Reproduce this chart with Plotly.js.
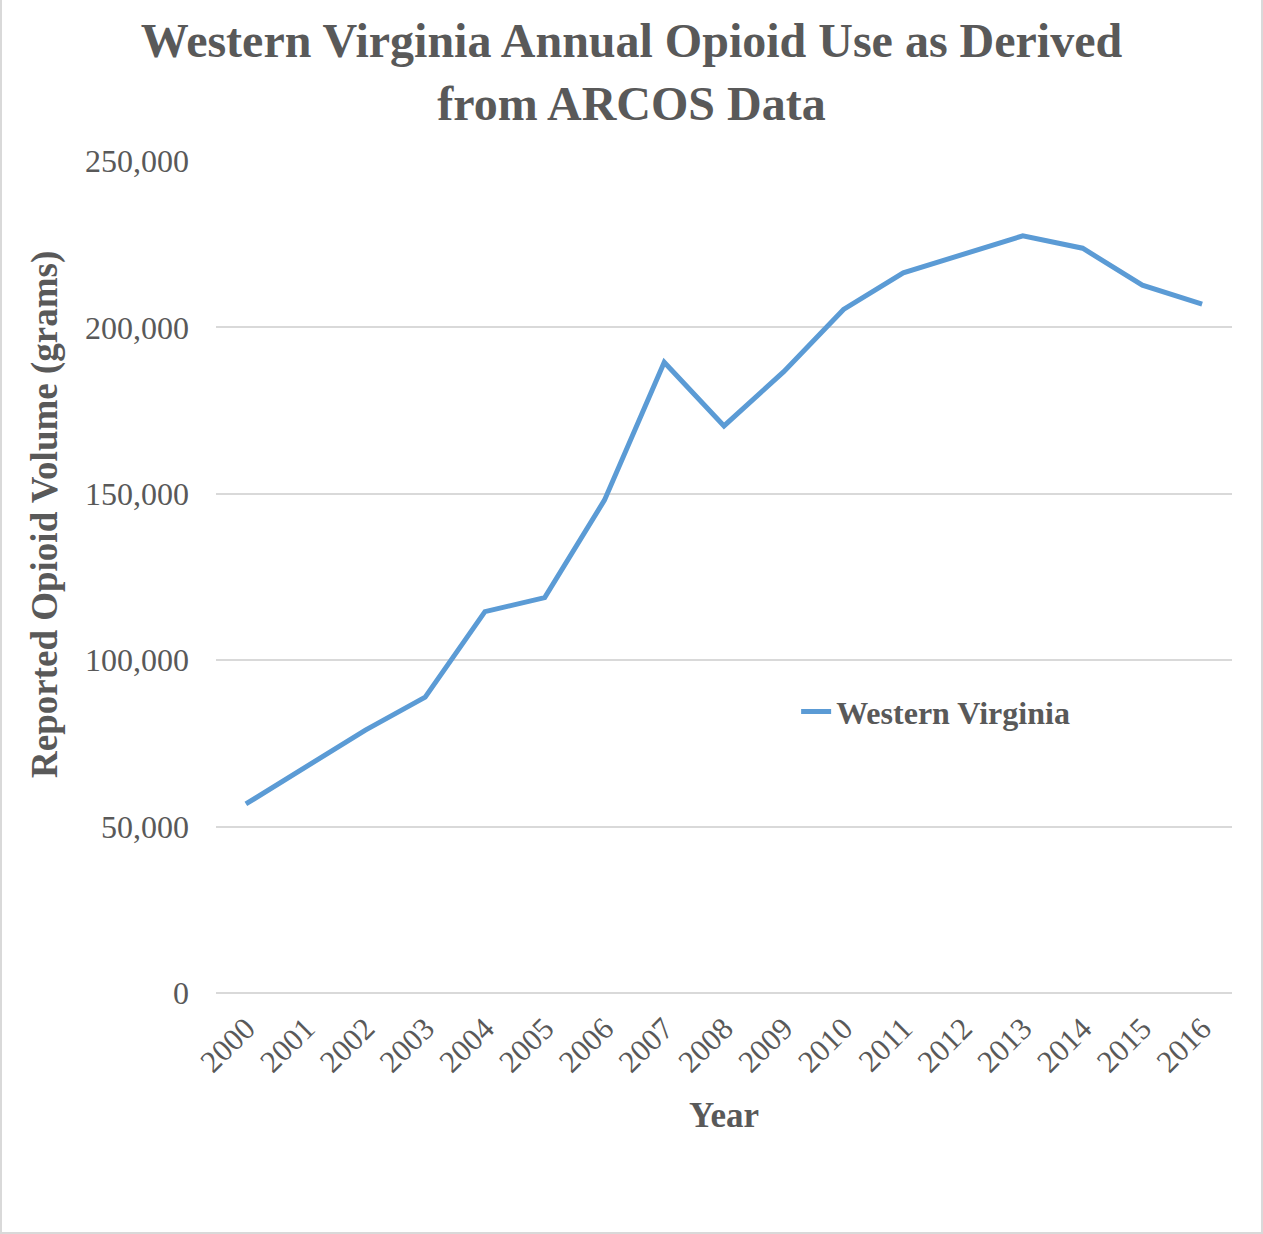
<!DOCTYPE html>
<html>
<head>
<meta charset="utf-8">
<script src="https://cdn.plot.ly/plotly-3.0.1.min.js"></script>
<style>
  html, body { margin: 0; padding: 0; background: #ffffff; }
  #wrap { position: relative; width: 1263px; height: 1234px; }
  #chart { width: 1263px; height: 1234px; }
  #frame { position: absolute; left: 0; top: 0; width: 1263px; height: 1234px; box-sizing: border-box;
           border-left: 2px solid #d9d9d9; border-right: 2px solid #d9d9d9; border-bottom: 2px solid #d9d9d9;
           pointer-events: none; }
</style>
</head>
<body>
<div id="wrap"><div id="chart"></div><div id="frame"></div></div>
<script>
const years = ["2000","2001","2002","2003","2004","2005","2006","2007","2008","2009","2010","2011","2012","2013","2014","2015","2016"];
const opioidGrams = [56800, 68000, 79000, 88900, 114600, 118800, 148100, 189500, 170400, 186700, 205400, 216400, 221800, 227500, 223800, 212700, 207000];
const seriesName = "Western Virginia";
const yTickVals = [0, 50000, 100000, 150000, 200000, 250000];
const yTickText = ["0", "50,000", "100,000", "150,000", "200,000", "250,000"];

const textColor = "#595959";
const serif = "'Liberation Serif', 'Times New Roman', serif";

const trace = {
  x: years,
  y: opioidGrams,
  type: "scatter",
  mode: "lines",
  name: seriesName,
  line: { color: "#5b9bd5", width: 5 },
  showlegend: true
};

const layout = {
  width: 1263,
  height: 1234,
  paper_bgcolor: "#ffffff",
  plot_bgcolor: "#ffffff",
  margin: { l: 216, r: 31, t: 161, b: 241 },
  font: { family: serif, color: textColor },
  title: {
    text: "<b>Western Virginia Annual Opioid Use as Derived<br>from ARCOS Data</b>",
    font: { family: serif, size: 48, color: textColor },
    x: 0.5, xref: "container", xanchor: "center",
    y: 0.9535, yref: "container", yanchor: "top"
  },
  xaxis: {
    type: "category",
    range: [-0.5, 16.5],
    showgrid: false,
    zeroline: false,
    showline: false,
    ticks: "",
    tickangle: -45,
    ticklabelstandoff: 10,
    tickfont: { family: serif, size: 31, color: textColor },
    title: { text: "<b>Year</b>", font: { family: serif, size: 35, color: textColor }, standoff: 24 }
  },
  yaxis: {
    range: [0, 250000],
    tickvals: yTickVals,
    ticktext: yTickText,
    showgrid: true,
    gridcolor: "#d9d9d9",
    gridwidth: 2,
    zeroline: true,
    zerolinecolor: "#d9d9d9",
    zerolinewidth: 2,
    showline: false,
    ticks: "",
    ticklabelstandoff: 26,
    tickfont: { family: serif, size: 32, color: textColor }
  },
  annotations: [{
    text: "<b>Reported Opioid Volume (grams)</b>",
    textangle: -90,
    font: { family: serif, size: 37, color: textColor },
    xref: "paper", yref: "paper",
    x: (45 - 216) / 1016, y: (993 - 515) / 832,
    xanchor: "center", yanchor: "middle",
    showarrow: false
  }],
  showlegend: true,
  legend: {
    x: 0.571, xref: "paper", xanchor: "left",
    y: 0.338, yref: "paper", yanchor: "middle",
    bgcolor: "rgba(0,0,0,0)",
    font: { family: serif, size: 32, color: textColor, weight: "bold" },
    itemwidth: 30
  }
};

Plotly.newPlot("chart", [trace], layout, { displayModeBar: false, staticPlot: true });
</script>
</body>
</html>
